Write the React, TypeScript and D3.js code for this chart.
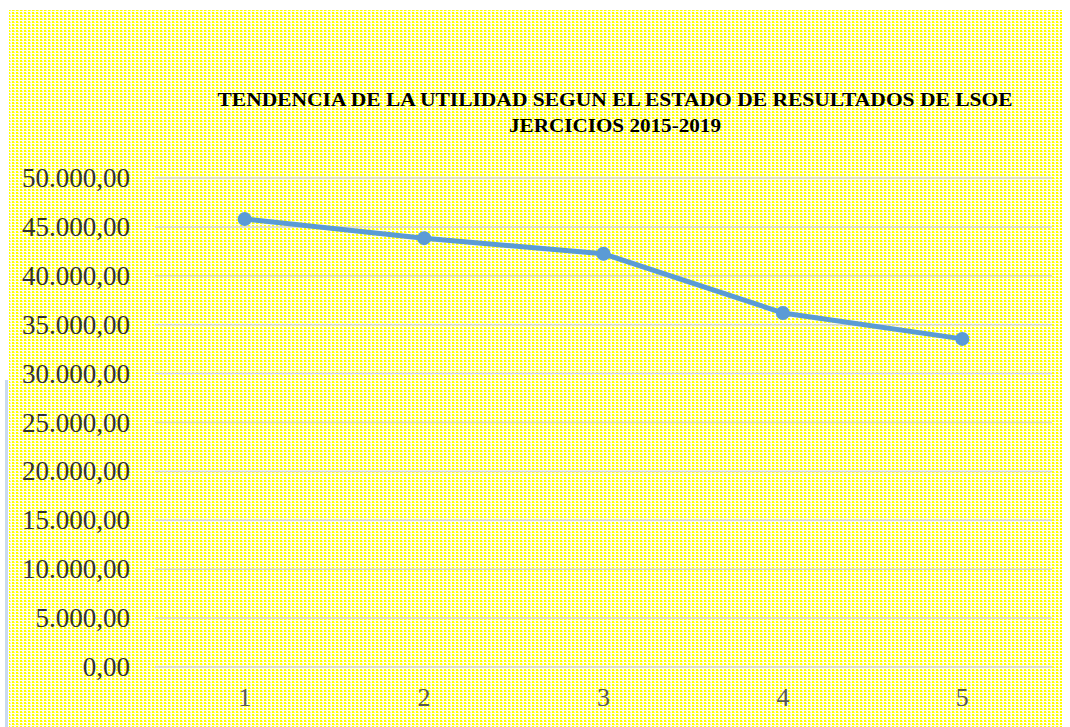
import * as d3 from 'd3';

const categories = ['1', '2', '3', '4', '5'];
const values = [45800, 43850, 42250, 36200, 33550];
const yTicks = [0, 5000, 10000, 15000, 20000, 25000, 30000, 35000, 40000, 45000, 50000];
const titleLines = [
  'TENDENCIA DE LA UTILIDAD SEGUN EL ESTADO DE RESULTADOS DE LSOE',
  'JERCICIOS 2015-2019',
];

const fmt = (v: number) => {
  const s = d3.format(',.2f')(v);
  return s.replace(/,/g, '#').replace('.', ',').replace(/#/g, '.');
};

export default function App() {
  const W = 1070;
  const H = 727;
  const x = d3.scaleBand().domain(categories).range([155, 1052]);
  const y = d3.scaleLinear().domain([0, 50000]).range([667, 178]);
  const line = d3.line<number>()
    .x((_, i) => (x(categories[i]) as number) + x.bandwidth() / 2)
    .y(d => y(d));

  return (
    <div style={{ position: 'absolute', left: 0, top: 0 }}>
      <svg width={W} height={H} style={{ display: 'block' }}>
        <defs>
          <pattern id="dots" width={4} height={3} patternUnits="userSpaceOnUse">
            <rect width={4} height={3} fill="#fffff0" />
            <rect x={0} y={0} width={2} height={2} fill="#ffff00" />
            <rect x={2} y={1} width={1} height={1} fill="#ffff70" />
          </pattern>
        </defs>
        <rect width={W} height={H} fill="#ffffff" />
        <rect x={9} y={10} width={1053} height={717} fill="url(#dots)" />
        <line x1={6.5} x2={6.5} y1={380} y2={727} stroke="#c9daf0" strokeWidth={3} />

        {titleLines.map((t, i) => (
          <text
            key={t}
            x={615}
            y={106 + i * 26}
            textAnchor="middle"
            fontFamily="'Liberation Serif', 'Times New Roman', serif"
            fontWeight="bold"
            fontSize={19}
            fill="#000"
            textLength={i === 0 ? 795 : 212}
            lengthAdjust="spacingAndGlyphs"
          >
            {t}
          </text>
        ))}

        {yTicks.map(v => (
          <g key={v}>
            <line x1={155} x2={1052} y1={y(v)} y2={y(v)} stroke="#d9d9d9" strokeWidth={1.5} />
            <text
              x={130}
              y={y(v) + 9}
              textAnchor="end"
              fontFamily="'Liberation Serif', 'Times New Roman', serif"
              fontSize={27}
              fill="#333333"
            >
              {fmt(v)}
            </text>
          </g>
        ))}

        {categories.map(c => (
          <text
            key={c}
            x={(x(c) as number) + x.bandwidth() / 2}
            y={706}
            textAnchor="middle"
            fontFamily="'Liberation Serif', 'Times New Roman', serif"
            fontSize={26}
            fill="#595959"
          >
            {c}
          </text>
        ))}

        <path d={line(values) as string} fill="none" stroke="#5b9bd5" strokeWidth={5} strokeLinejoin="round" />
        {values.map((v, i) => (
          <circle
            key={i}
            cx={(x(categories[i]) as number) + x.bandwidth() / 2}
            cy={y(v)}
            r={7}
            fill="#5b9bd5"
          />
        ))}
      </svg>
    </div>
  );
}
